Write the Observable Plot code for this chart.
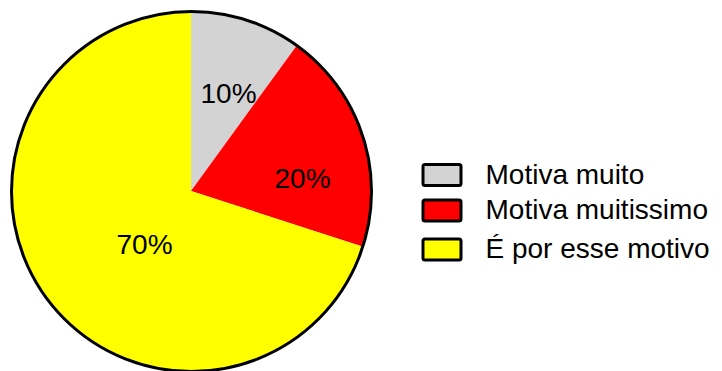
<!DOCTYPE html>
<html>
<head>
<meta charset="utf-8">
<script src="https://cdn.jsdelivr.net/npm/d3@7"></script>
<script src="https://cdn.jsdelivr.net/npm/@observablehq/plot@0.6"></script>
<style>
  html, body { margin: 0; padding: 0; background: #fff; }
</style>
</head>
<body>
<div id="chart"></div>
<script>
// Survey answers and their shares (%)
const categories = ["Motiva muito", "Motiva muitissimo", "É por esse motivo"];
const values = [10, 20, 70];
const colors = ["#d3d3d3", "#ff0000", "#ffff00"];

// Layout
const W = 722, H = 371;
const cx = 191, cy = 191, R = 180;
// label anchor offsets from the pie centre, one per slice
const labelOffsets = [[37, -97], [111, -12], [-47, 54]];
const legendX = 423, legendBoxW = 38, legendBoxH = 21, legendTextX = 485;
const legendRowY = [175, 210.5, 249.5];

const arcs = d3.pie().sort(null).value(d => d.value)(
  categories.map((c, i) => ({category: c, value: values[i]}))
);
const arcPath = d3.arc().innerRadius(0).outerRadius(R);

const legendRows = categories.map((c, i) => ({category: c, y: legendRowY[i]}));

// pie wedges, drawn with d3.arc from the pie layout
function wedges(index, scales) {
  const g = d3.create("svg:g").attr("transform", `translate(${cx},${cy})`);
  g.selectAll("path")
    .data(arcs)
    .join("path")
    .attr("d", arcPath)
    .attr("fill", d => scales.color(d.data.category));
  return g.node();
}

const chart = Plot.plot({
  width: W,
  height: H,
  margin: 0,
  x: {type: "identity", axis: null},
  y: {type: "identity", axis: null},
  color: {domain: categories, range: colors},
  style: {fontFamily: "'Liberation Sans', Arial, sans-serif", background: "#fff"},
  marks: [
    wedges,
    Plot.dot([0], {x: () => cx, y: () => cy, r: R, fill: "none", stroke: "#000", strokeWidth: 3}),
    Plot.text(arcs, {
      x: (d, i) => cx + labelOffsets[i][0],
      y: (d, i) => cy + labelOffsets[i][1],
      text: d => `${d.data.value}%`,
      fontSize: 28,
      fill: "#000"
    }),
    Plot.rect(legendRows, {
      x1: () => legendX,
      x2: () => legendX + legendBoxW,
      y1: d => d.y - legendBoxH / 2,
      y2: d => d.y + legendBoxH / 2,
      fill: "category",
      stroke: "#000",
      strokeWidth: 3,
      rx: 2
    }),
    Plot.text(legendRows, {
      x: () => legendTextX,
      y: d => d.y - 0.5,
      text: "category",
      textAnchor: "start",
      fontSize: 28,
      fill: "#000"
    })
  ]
});

document.getElementById("chart").append(chart);
</script>
</body>
</html>
